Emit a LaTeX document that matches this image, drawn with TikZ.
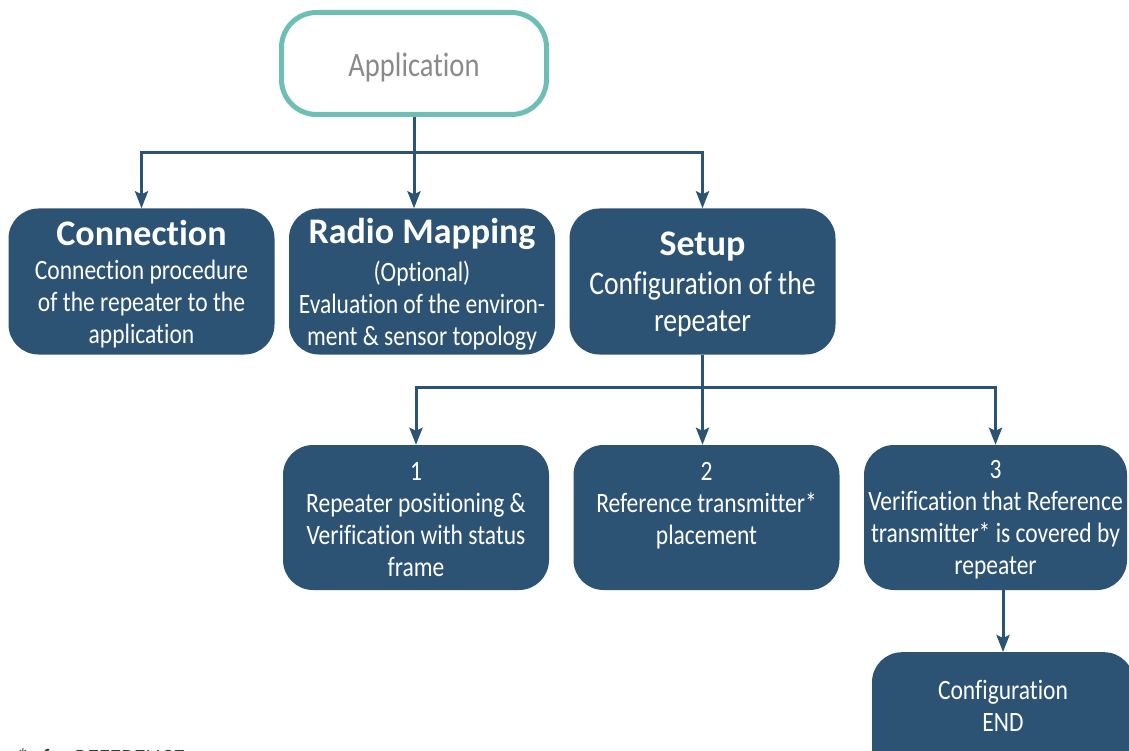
\documentclass[tikz,border=0pt]{standalone}
\usepackage{fontspec}
\setmainfont{Carlito}[FakeStretch=0.84,Ligatures=NoCommon]
\newfontfamily\headfont{Carlito}[Ligatures=NoCommon]
\usetikzlibrary{arrows.meta,positioning}
\definecolor{boxblue}{HTML}{2D5374}
\definecolor{appteal}{HTML}{6DBFB3}
\definecolor{appgray}{HTML}{8A8A8A}
\newcommand{\boxhead}[1]{{\headfont\fontsize{36}{36}\selectfont\bfseries\rule{0pt}{30pt}#1}}
\newcommand{\stepno}[1]{\rule{0pt}{22pt}#1}
\begin{document}
\begin{tikzpicture}[x=1pt,y=-1pt,
	stepbox/.style={fill=boxblue,rounded corners=30pt,minimum width=266pt,minimum height=146pt,
		text=white,align=center,inner sep=0pt,font=\fontsize{28}{32}\selectfont},
	appbox/.style={draw=appteal,line width=5pt,fill=white,rounded corners=35pt,minimum width=265pt,
		minimum height=102pt,text=appgray,text height=31pt,font=\fontsize{34}{36}\selectfont},
	link/.style={draw=boxblue,line width=3pt,-{Stealth[length=17pt,width=13pt,inset=3pt]}}]
	\useasboundingbox (0,0) rectangle (1129,751);
	% Application
	\node[appbox] (app) at (414,63.5) {Application};
	% First row
	\node[stepbox] (conn) at (141.5,281.5) {\boxhead{Connection}\\[2pt]Connection procedure\\of the repeater to the\\application};
	\node[stepbox] (radio) at (422,281.5) {\boxhead{Radio Mapping}\\[6pt](Optional)\\Evaluation of the environ-\\ment \& sensor topology};
	\node[stepbox,font=\fontsize{33}{37}\selectfont] (setup) at (702.5,281.5) {\boxhead{Setup}\\[2pt]Configuration of the\\repeater};
	% Second row
	\node[stepbox,minimum height=145pt] (pos) at (416,517.5) {\stepno{1}\\Repeater positioning \&\\Verification with status\\frame};
	\node[stepbox,minimum height=145pt] (place) at (706.5,517.5) {\stepno{2}\\Reference transmitter*\\placement\\\mbox{}};
	\node[stepbox,minimum height=145pt,minimum width=263pt] (cover) at (995.5,517.5) {\stepno{3}\\Verification that Reference\\transmitter* is covered by\\repeater};
	% End
	\node[stepbox,minimum width=262pt,minimum height=140pt,anchor=north] (cend) at (1003,652) {Configuration\\END\\\mbox{}};
	% Connectors
	\coordinate (split1) at ([yshift=-36pt]app.south);
	\coordinate (split2) at ([yshift=-33pt]setup.south);
	\draw[link] (app.south) -- (split1) -| (conn.north);
	\draw[link] (split1) -| (setup.north);
	\draw[link] (split1) -- (split1 |- radio.north);
	\draw[link] (setup.south) -- (split2) -| (pos.north);
	\draw[link] (split2) -| (cover.north);
	\draw[link] (split2) -- (split2 |- place.north);
	\draw[link] (cend.north |- cover.south) -- (cend.north);
	% Footnote (cut by the page)
	\node[anchor=north west,inner sep=0pt,text=black!80,font=\fontsize{28}{32}\selectfont] (note) at (17,748) {*: for REFERENCE};
\end{tikzpicture}
\end{document}
